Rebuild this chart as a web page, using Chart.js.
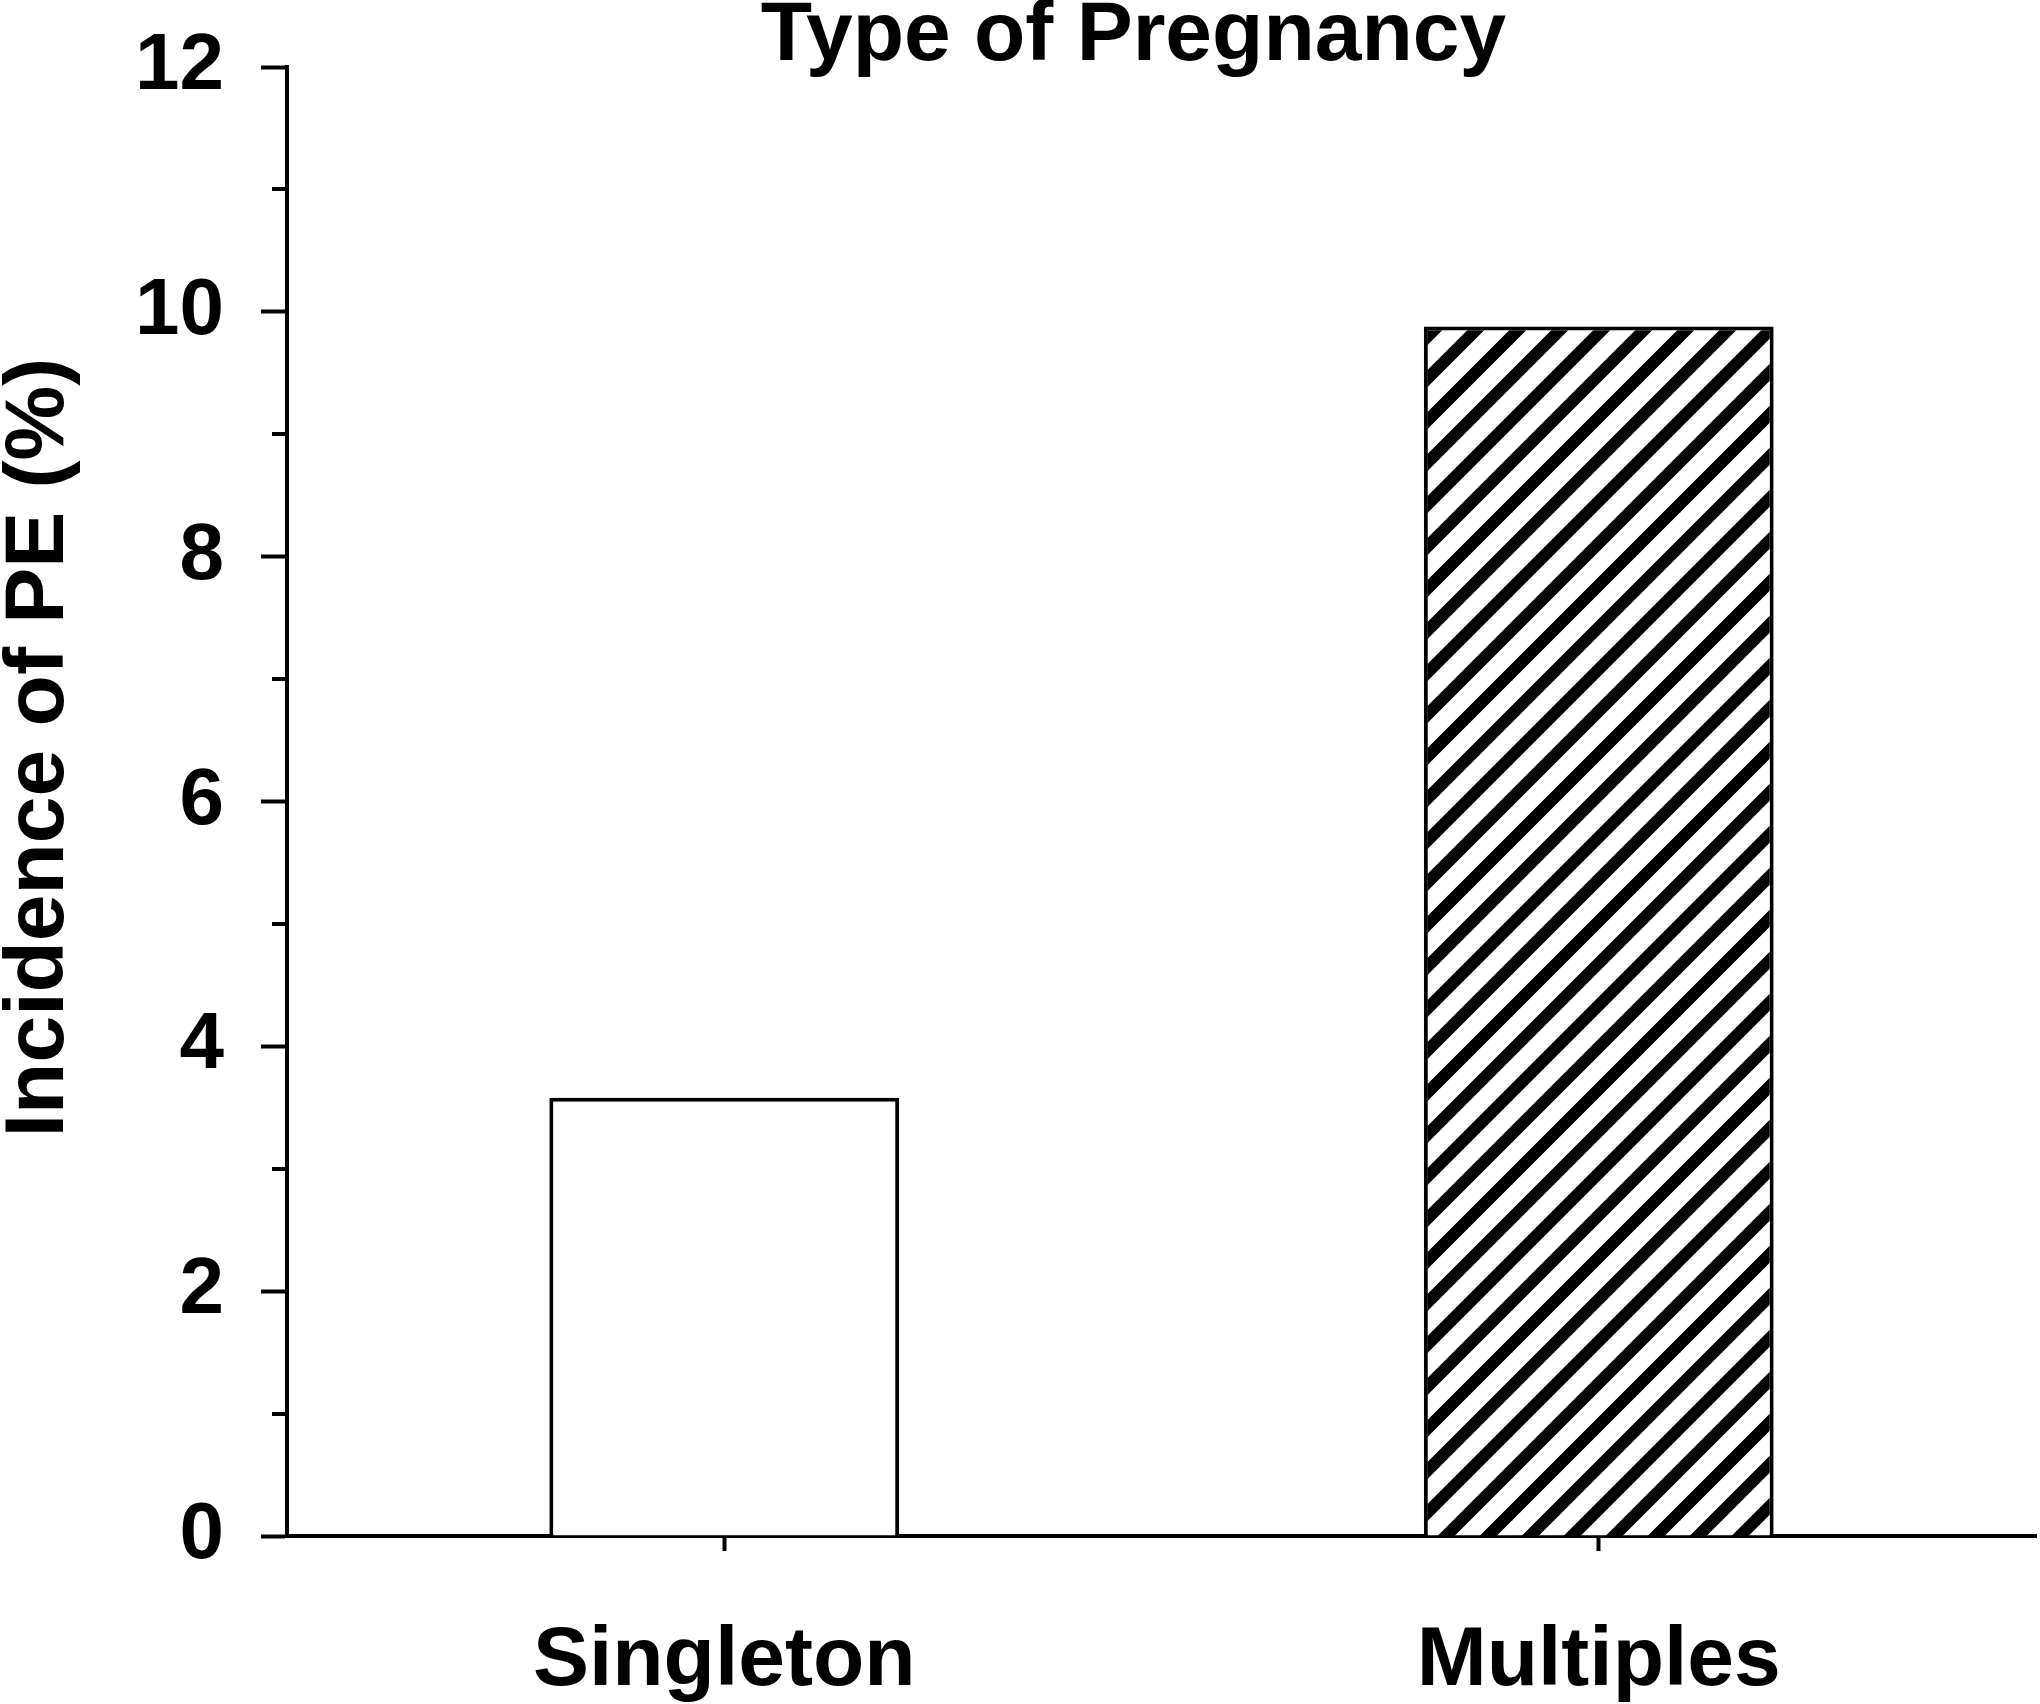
<!DOCTYPE html>
<html><head><meta charset="utf-8">
<script src="https://cdn.jsdelivr.net/npm/chart.js@4.4.0/dist/chart.umd.min.js"></script>
<style>html,body{margin:0;padding:0;background:#fff}#wrap{width:2040px;height:1704px}</style>
</head><body><div id="wrap"><canvas id="c" width="2040" height="1704"></canvas></div>
<script>
const categories = ['Singleton', 'Multiples'];
const incidence = [3.58, 9.88];
const yMajorTicks = [0, 2, 4, 6, 8, 10, 12];
const yMinorTicks = [1, 3, 5, 7, 9, 11];
const chartTitle = 'Type of Pregnancy';
const yAxisTitle = 'Incidence of PE (%)';

const FONT = "'Liberation Sans', Arial, sans-serif";

function makeHatch() {
  const p = 42;
  const c = document.createElement('canvas');
  c.width = p; c.height = p;
  const g = c.getContext('2d');
  g.fillStyle = '#fff';
  g.fillRect(0, 0, p, p);
  g.strokeStyle = '#000';
  g.lineWidth = 12;
  g.lineCap = 'square';
  [0, p, 2 * p].forEach(k => {
    g.beginPath();
    g.moveTo(-p, k + p);
    g.lineTo(k + p, -p);
    g.stroke();
  });
  return g.createPattern(c, 'repeat');
}

const extras = {
  id: 'extras',
  afterDraw(chart) {
    const ctx = chart.ctx;
    const ca = chart.chartArea;
    const y = chart.scales.y;
    ctx.save();
    ctx.strokeStyle = '#000';
    ctx.lineWidth = 4;
    yMinorTicks.forEach(v => {
      const py = Math.round(y.getPixelForValue(v));
      ctx.beginPath();
      ctx.moveTo(ca.left, py);
      ctx.lineTo(ca.left - 15, py);
      ctx.stroke();
    });
    ctx.fillStyle = '#000';
    ctx.font = 'bold 84px ' + FONT;
    ctx.textAlign = 'center';
    ctx.textBaseline = 'alphabetic';
    ctx.fillText(chartTitle, (ca.left + ca.right) / 2 - 28, 60);
    // y-axis title, centred a little above the plot's mid-height as in the source
    ctx.translate(63, (ca.top + ca.bottom) / 2 - 54);
    ctx.rotate(-Math.PI / 2);
    ctx.fillText(yAxisTitle, 0, 0);
    ctx.restore();
  }
};

new Chart(document.getElementById('c'), {
  type: 'bar',
  data: {
    labels: categories,
    datasets: [{
      data: incidence,
      backgroundColor: ['#ffffff', makeHatch()],
      borderColor: '#000',
      borderWidth: 4,
      borderSkipped: 'start',
      barPercentage: 0.4,
      categoryPercentage: 1.0
    }]
  },
  options: {
    responsive: false,
    animation: false,
    devicePixelRatio: 1,
    layout: { padding: { left: 0, right: 4, top: 67, bottom: 0 } },
    plugins: { legend: { display: false }, tooltip: { enabled: false }, title: { display: false } },
    scales: {
      x: {
        type: 'category',
        grid: { display: true, drawOnChartArea: false, offset: false, tickLength: 15, tickWidth: 4, tickColor: '#000' },
        border: { display: true, color: '#000', width: 4 },
        ticks: { color: '#000', font: { family: FONT, size: 84, weight: 'bold' }, padding: 60, maxRotation: 0 },
        afterFit: s => { s.height = 168; }
      },
      y: {
        type: 'linear',
        min: 0, max: 12,
        afterBuildTicks: s => { s.ticks = yMajorTicks.map(v => ({ value: v })); },
        grid: { display: true, drawOnChartArea: false, tickLength: 26, tickWidth: 4, tickColor: '#000' },
        border: { display: true, color: '#000', width: 4 },
        ticks: { color: '#000', font: { family: FONT, size: 80, weight: 'bold', lineHeight: 0.4 }, padding: 37 },
        title: { display: false },
        afterFit: s => { s.width = 287; }
      }
    }
  },
  plugins: [extras]
});
</script></body></html>
